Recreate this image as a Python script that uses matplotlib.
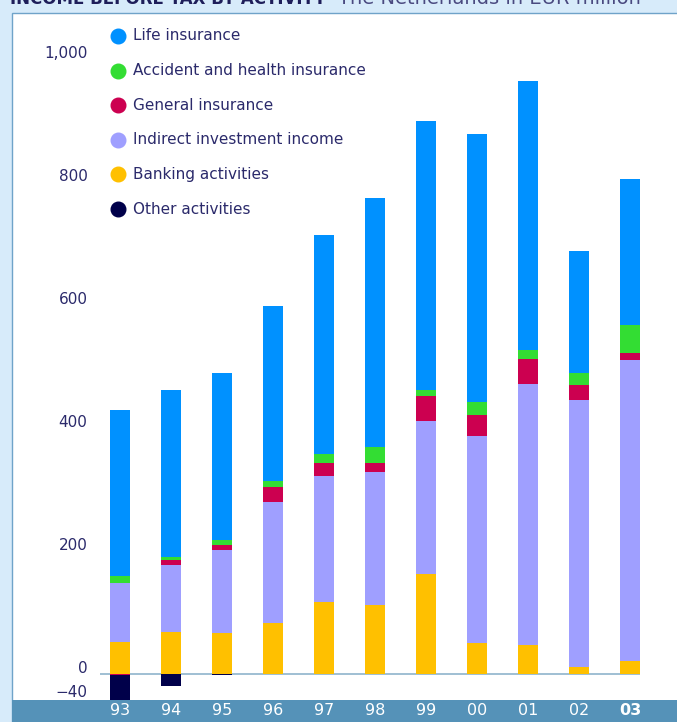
import numpy as np
import matplotlib
matplotlib.use("Agg")
import matplotlib.pyplot as plt
import matplotlib.transforms as mtransforms
from matplotlib.patches import Rectangle

years = ["93", "94", "95", "96", "97", "98", "99", "00", "01", "02", "03"]

life = [270, 273, 272, 285, 356, 405, 437, 437, 437, 198, 237]
accident = [11, 5, 8, 10, 15, 26, 10, 21, 15, 20, 46]
general = [-2, 8, 8, 24, 20, 15, 41, 33, 41, 24, 11]
indirect = [95, 108, 135, 197, 205, 216, 249, 337, 424, 435, 489]
banking = [52, 68, 66, 82, 117, 112, 162, 50, 47, 10, 21]
other = [-45, -20, -2, 0, 0, 0, 0, 0, 0, 0, 0]

labels = ["Life insurance", "Accident and health insurance", "General insurance",
          "Indirect investment income", "Banking activities", "Other activities"]
colors = ["#0091ff", "#33dd33", "#cc0050", "#9f9fff", "#ffc000", "#00004a"]

ytick_vals = [-40, 0, 200, 400, 600, 800, 1000]
ytick_text = ["\u221240", "0", "200", "400", "600", "800", "1,000"]

navy = "#2b2a6b"
W, H = 677, 722

fig = plt.figure(figsize=(W / 100, H / 100), dpi=100)
fig.patch.set_facecolor("#d7ebfa")

# white panel with thin border
fig.add_artist(Rectangle((12 / W, 0), 1, (H - 13) / H, transform=fig.transFigure,
                         facecolor="white", edgecolor="#6fa3c9", lw=1.0, zorder=0))
# bottom band
fig.add_artist(Rectangle((12 / W, 0), 1, 22 / H, transform=fig.transFigure,
                         facecolor="#5592b8", edgecolor="none", zorder=1))

# title, mostly cut off at the top edge
fig.text(10 / W, 1 - 4 / H, "INCOME BEFORE TAX BY ACTIVITY", fontsize=12,
         fontweight="bold", color="#1e1e5a", va="baseline", ha="left")
fig.text(338 / W, 1 - 4 / H, "The Netherlands in EUR million", fontsize=14,
         color="#4a4a80", va="baseline", ha="left")

ax = fig.add_axes([100 / W, 22 / H, 540 / W, (700 - 28) / H])
ax.set_zorder(3)
ax.set_facecolor("none")
x = np.arange(len(years))
width = 0.373

series = [life, accident, general, indirect, banking, other]
# stacking order from bottom: banking, indirect, general, accident, life ; negatives go below 0
order = [4, 3, 2, 1, 0, 5]
pos_base = np.zeros(len(years))
neg_base = np.zeros(len(years))
for k in order:
    vals = np.array(series[k], dtype=float)
    pos = np.where(vals > 0, vals, 0)
    neg = np.where(vals < 0, vals, 0)
    ax.bar(x, pos, width, bottom=pos_base, color=colors[k], zorder=3)
    ax.bar(x, neg, width, bottom=neg_base, color=colors[k], zorder=3)
    pos_base += pos
    neg_base += neg

ax.axhline(0, color="#8fb4cc", lw=1.2, zorder=2)

ax.set_xlim(-0.392, 10.196)
ax.set_ylim(-43, 1050)
for s in ax.spines.values():
    s.set_visible(False)

ax.set_yticks(ytick_vals)
ax.set_yticklabels(ytick_text)
ax.tick_params(axis="y", length=0, pad=9, labelsize=11, labelcolor=navy)
offset = mtransforms.ScaledTranslation(0, 7 / 100, fig.dpi_scale_trans)
for lab in ax.get_yticklabels():
    lab.set_transform(lab.get_transform() + offset)

ax.set_xticks(x)
ax.set_xticklabels(years)
ax.tick_params(axis="x", length=0, pad=2.5, labelsize=11.5, labelcolor="white")
ax.get_xticklabels()[-1].set_fontweight("bold")

# legend drawn by hand
for i, (lab, c) in enumerate(zip(labels, colors)):
    yy = 1 - (36 + 34.6 * i) / H
    fig.add_artist(plt.Line2D([118 / W], [yy], marker="o", markersize=10.5,
                              color=c, transform=fig.transFigure, linestyle="none"))
    fig.text(133 / W, yy, lab, fontsize=11, color=navy, va="center", ha="left")

fig.savefig("out.png", dpi=100, facecolor=fig.get_facecolor())
